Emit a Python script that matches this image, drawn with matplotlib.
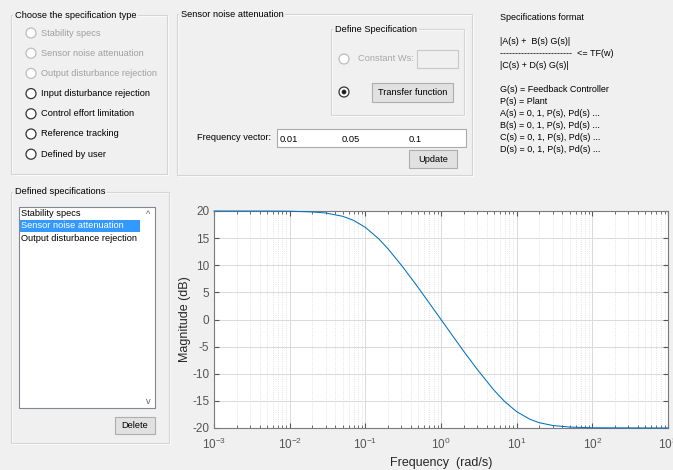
import matplotlib.pyplot as plt
from matplotlib.patches import Rectangle, Circle

W, H = 673, 470

# specification choices (label, enabled)
spec_types = ["Stability specs", "Sensor noise attenuation", "Output disturbance rejection",
              "Input disturbance rejection", "Control effort limitation",
              "Reference tracking", "Defined by user"]
spec_enabled = [False, False, False, True, True, True, True]

defined_specs = ["Stability specs", "Sensor noise attenuation", "Output disturbance rejection"]
selected_spec = 1

freq_vector = ["0.01", "0.05", "0.1"]

format_lines = ["Specifications format", "",
                "|A(s) +  B(s) G(s)|",
                "------------------------  <= TF(w)",
                "|C(s) + D(s) G(s)|", "",
                "G(s) = Feedback Controller",
                "P(s) = Plant",
                "A(s) = 0, 1, P(s), Pd(s) ...",
                "B(s) = 0, 1, P(s), Pd(s) ...",
                "C(s) = 0, 1, P(s), Pd(s) ...",
                "D(s) = 0, 1, P(s), Pd(s) ..."]

# weighting function magnitude
freq = [0.001, 0.005, 0.01, 0.02, 0.03, 0.05, 0.07, 0.1, 0.15, 0.2, 0.3, 0.4, 0.5, 0.7,
        1, 1.5, 2, 3, 5, 7, 10, 15, 20, 30, 50, 100, 1000]
mag_db = [20.0, 19.99, 19.96, 19.83, 19.63, 19.03, 18.27, 16.99, 14.88, 13.01, 10.0, 7.70, 5.87, 3.03,
          0.0, -3.45, -5.87, -9.17, -13.01, -15.17, -16.99, -18.4, -19.03, -19.54, -19.83, -19.96, -20.0]

plt.rcParams['font.family'] = ['Liberation Sans', 'DejaVu Sans']
plt.rcParams['axes.unicode_minus'] = False
plt.rcParams['mathtext.fontset'] = 'custom'
plt.rcParams['mathtext.rm'] = 'Liberation Sans'
plt.rcParams['mathtext.it'] = 'Liberation Sans:italic'
fs = 6.7
bg = '#F0F0F0'

fig = plt.figure(figsize=(W / 100, H / 100), dpi=100, facecolor=bg)
tr = fig.dpi_scale_trans  # positions below are given in pixels from the top-left


def P(x, y):
    return (x / 100, (H - y) / 100)


def box(x0, y0, x1, y1, fc='none', ec='#CFCFCF', lw=0.8, z=1):
    fig.patches.append(Rectangle(P(x0, y1), (x1 - x0) / 100, (y1 - y0) / 100,
                                 transform=tr, facecolor=fc, edgecolor=ec,
                                 lw=lw, zorder=z))


def text(x, y, s, **kw):
    kw.setdefault('fontsize', fs)
    kw.setdefault('va', 'center')
    fig.text(*P(x, y), s, transform=tr, **kw)


def panel(x0, y0, x1, y1, title):
    box(x0, y0, x1, y1, ec='#D4D4D4')
    box(x0 + 1, y0 + 1, x1 + 1, y1 + 1, ec='white', lw=0.6, z=0.9)
    text(x0 + 4, y0, title, color='black', zorder=3,
         bbox=dict(facecolor=bg, edgecolor='none', pad=1.2))


def radio(x, y, enabled=True, selected=False):
    ec = '#333333' if enabled else '#BDBDBD'
    fig.patches.append(Circle(P(x, y), 0.05, transform=tr,
                              facecolor='white', edgecolor=ec, lw=0.9, zorder=2))
    if selected:
        fig.patches.append(Circle(P(x, y), 0.024, transform=tr,
                                  facecolor='#222222', edgecolor='none', zorder=3))


def button(x0, y0, x1, y1, s):
    box(x0, y0, x1, y1, fc='#E1E1E1', ec='#ADADAD', z=2)
    text((x0 + x1) / 2, (y0 + y1) / 2, s, ha='center', zorder=3)


# spec type chooser
panel(11, 15, 167, 174, "Choose the specification type")
for i, (name, en) in enumerate(zip(spec_types, spec_enabled)):
    y = 33 + i * 20.2
    radio(31, y, en)
    text(41, y, name, color='black' if en else '#A0A0A0')

# current spec panel
panel(177, 14, 472, 175, "Sensor noise attenuation")
panel(331, 29, 464, 115, "Define Specification")
radio(344, 59, enabled=False)
text(358, 59, "Constant Ws:", color='#A8A8A8')
box(417, 50, 458, 68, fc='#F0F0F0', ec='#C8C8C8', z=2)
radio(344, 92, selected=True)
button(372, 83, 453, 102, "Transfer function")
text(271, 137, "Frequency vector:", ha='right')
box(277, 129, 466, 147, fc='white', ec='#ABABAB', z=2)
for s, x in zip(freq_vector, [280, 342, 409]):
    text(x, 139, s, zorder=3)
button(409, 150, 457, 168, "Update")

# format help text
for i, line in enumerate(format_lines):
    text(500, 17 + i * 12, line, fontsize=fs - 0.2)

# defined specs list
panel(11, 192, 169, 443, "Defined specifications")
box(19, 207, 155, 408, fc='white', ec='#828790', z=2)
for i, name in enumerate(defined_specs):
    y = 214 + i * 12
    if i == selected_spec:
        box(20, y - 6, 140, y + 6, fc='#3399FF', ec='none', z=2.5)
    text(21, y, name, color='white' if i == selected_spec else 'black', zorder=3)
text(148, 214, "^", ha='center', color='#606060', zorder=3)
text(148, 401, "v", ha='center', color='#606060', zorder=3)
button(115, 417, 155, 434, "Delete")

# magnitude plot
ax = fig.add_axes([214 / W, 1 - 428 / H, (668 - 214) / W, (428 - 211) / H])
ax.semilogx(freq, mag_db, color='#0072BD', lw=0.75, clip_on=False, zorder=3)
ax.set_xlim(1e-3, 1e3)
ax.set_ylim(-20, 20)
ax.set_yticks(range(-20, 21, 5))
ax.grid(True, which='major', color='#DADADA', lw=0.7)
ax.grid(True, which='minor', color='#DADADA', lw=0.6, ls=':')
ax.tick_params(which='both', direction='in', top=True, right=True, colors='#555555',
               labelsize=8.5, labelcolor='#555555')
ax.tick_params(axis='x', which='major', pad=6)
ax.tick_params(which='major', length=3.5)
ax.tick_params(which='minor', length=2)
for sp in ax.spines.values():
    sp.set_color('#7A7A7A')
    sp.set_linewidth(0.8)
ax.set_xlabel("Frequency  (rad/s)", fontsize=9, color='#262626', labelpad=4)
ax.set_ylabel("Magnitude (dB)", fontsize=9, color='#262626', labelpad=1)

fig.savefig("out.png", dpi=100, facecolor=bg)
